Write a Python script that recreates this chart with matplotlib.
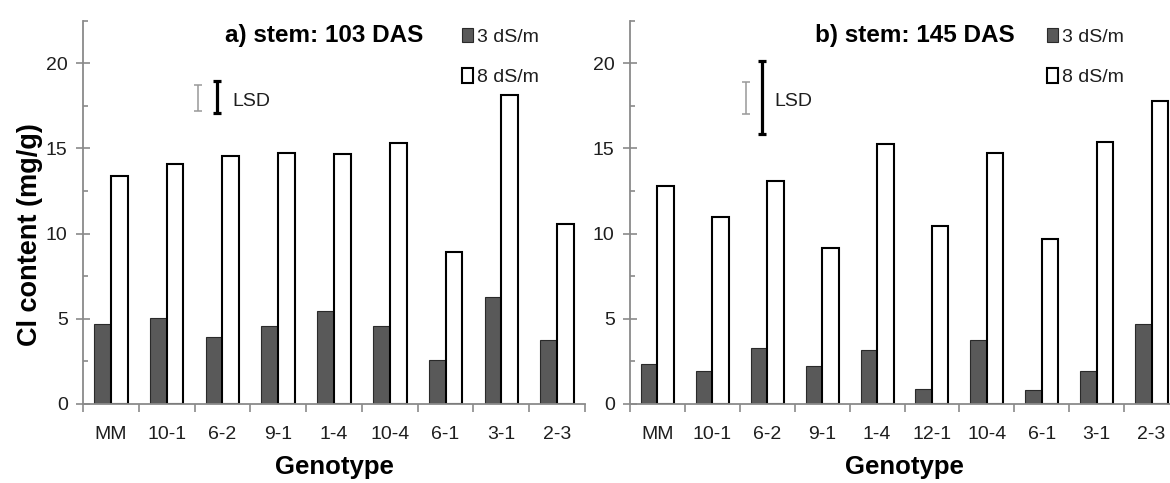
import numpy as np
import matplotlib
matplotlib.use("Agg")
import matplotlib.pyplot as plt
from matplotlib.transforms import blended_transform_factory

plt.rcParams['font.family'] = ['Liberation Sans', 'DejaVu Sans']

# data
genotypes_a = ['MM', '10-1', '6-2', '9-1', '1-4', '10-4', '6-1', '3-1', '2-3']
cl3_a = [4.7, 5.05, 3.95, 4.6, 5.45, 4.6, 2.6, 6.3, 3.75]
cl8_a = [13.35, 14.1, 14.55, 14.75, 14.65, 15.3, 8.9, 18.15, 10.55]
lsd_a = [1.5, 1.9]   # gray (3 dS/m), black (8 dS/m)

genotypes_b = ['MM', '10-1', '6-2', '9-1', '1-4', '12-1', '10-4', '6-1', '3-1', '2-3']
cl3_b = [2.35, 1.95, 3.3, 2.25, 3.15, 0.9, 3.75, 0.8, 1.95, 4.7]
cl8_b = [12.8, 11.0, 13.1, 9.15, 15.25, 10.45, 14.7, 9.7, 15.35, 17.8]
lsd_b = [1.9, 4.3]

titles = ['a) stem: 103 DAS', 'b) stem: 145 DAS']
series_labels = ['3 dS/m', '8 dS/m']

W, H = 1170, 483
fig = plt.figure(figsize=(W / 100, H / 100), dpi=100)

axis_col = '#8a8a8a'
text_col = '#1e1e1e'
bw = 0.3

panels = [
    dict(names=genotypes_a, v3=cl3_a, v8=cl8_a, lsd=lsd_a, left=83, width=502,
         title_x=0.481, leg_x=462, lsd_x=[1.57, 1.90], lsd_tx=2.18),
    dict(names=genotypes_b, v3=cl3_b, v8=cl8_b, lsd=lsd_b, left=630, width=549,
         title_x=0.519, leg_x=1047, lsd_x=[1.61, 1.91], lsd_tx=2.13),
]

for i, p in enumerate(panels):
    ax = fig.add_axes([p['left'] / W, (H - 404) / H, p['width'] / W, 383.5 / H])
    n = len(p['names'])
    x = np.arange(n)
    b3 = ax.bar(x - bw / 2, p['v3'], bw, color='#595959', edgecolor='#2a2a2a', linewidth=0.8,
                label=series_labels[0])
    b8 = ax.bar(x + bw / 2, p['v8'], bw, color='white', edgecolor='black', linewidth=1.5,
                label=series_labels[1])

    ax.set_xlim(-0.5, n - 0.5)
    ax.set_ylim(0, 22.5)
    for s in ['top', 'right']:
        ax.spines[s].set_visible(False)
    for s in ['left', 'bottom']:
        ax.spines[s].set_color(axis_col)
        ax.spines[s].set_linewidth(1.3)

    ax.set_yticks([0, 5, 10, 15, 20])
    ax.set_yticks(np.arange(2.5, 23, 5), minor=True)
    ax.tick_params(axis='y', which='major', direction='inout', length=10, width=1.2,
                   color=axis_col, labelsize=14, labelcolor=text_col, pad=6)
    ax.tick_params(axis='y', which='minor', direction='in', length=3.5, width=1.2, color=axis_col)

    ax.set_xticks(np.arange(n + 1) - 0.5)
    ax.set_xticklabels([])
    ax.set_xticks(x, minor=True)
    ax.set_xticklabels(p['names'], minor=True)
    ax.tick_params(axis='x', which='major', direction='out', length=6, width=1.2, color=axis_col)
    ax.tick_params(axis='x', which='minor', length=0, labelsize=14, labelcolor=text_col, pad=16)

    # LSD bars
    ax.errorbar(p['lsd_x'][0], 17.95, yerr=p['lsd'][0] / 2, fmt='none', ecolor='#999999',
                elinewidth=1.1, capsize=3, capthick=1.1)
    ax.errorbar(p['lsd_x'][1], 18.0, yerr=p['lsd'][1] / 2, fmt='none', ecolor='black',
                elinewidth=2.3, capsize=3.2, capthick=2.3)
    ax.text(p['lsd_tx'], 17.75, 'LSD', fontsize=14, color=text_col, va='center', ha='left')

    ax.text(p['title_x'], 0.962, titles[i], transform=ax.transAxes, fontsize=17.5,
            fontweight='bold', ha='center', va='center', color='black')

    ax.legend(handles=[b3, b8], loc='upper left', frameon=False,
              bbox_to_anchor=(p['leg_x'] / W, 1 - 28 / H), bbox_transform=fig.transFigure,
              fontsize=14, borderpad=0, borderaxespad=0, handlelength=0.55, handleheight=0.75,
              handletextpad=0.2, labelspacing=1.15, labelcolor=text_col)

    tr = blended_transform_factory(ax.transAxes, fig.transFigure)
    ax.text(0.5, 1 - 455 / H, 'Genotype', transform=tr, fontsize=18.5, fontweight='bold',
            ha='center', va='top', color='black')

fig.text(30 / W, 1 - 235 / H, 'Cl content (mg/g)', rotation=90, fontsize=19.5,
         fontweight='bold', ha='center', va='center', color='black')

fig.savefig('out.png', dpi=100)
